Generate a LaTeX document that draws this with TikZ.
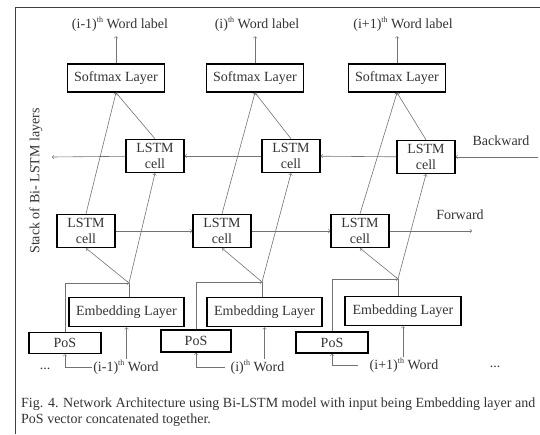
\documentclass[tikz,border=0pt]{standalone}
\usepackage{fontspec}
\setmainfont{Liberation Serif}
\newcommand{\eme}{\raisebox{0.85ex}{\fontsize{8}{8}\selectfont th}}
\begin{document}
\begin{tikzpicture}[x=1pt,y=-1pt,
  texte/.style={font=\fontsize{14}{16}\selectfont,text=black!80,inner sep=1pt},
  boite/.style={texte,draw=black,line width=1.4pt,inner sep=0pt,minimum height=28pt},
  cellule/.style={boite,align=center,minimum width=58pt,minimum height=33pt},
  fleche/.style={draw=black!55,line width=0.6pt,->},
  ligne/.style={draw=black!55,line width=0.6pt}]

\useasboundingbox
(0,0)
rectangle
(540,434);

% Cadre
\draw[black!75,line width=1pt]
(15,434)
--
(15,7)
--
(540,7);

% Etiquettes
\node[texte] (L1) at (120,24) {(i-1)\eme{} Word label};
\node[texte] (L2) at (257,24) {(i)\eme{} Word label};
\node[texte] (L3) at (403,24) {(i+1)\eme{} Word label};

% Softmax
\node[boite,minimum width=97pt] (S1) at (116,78) {Softmax Layer};
\node[boite,minimum width=97pt] (S2) at (255,78) {Softmax Layer};
\node[boite,minimum width=97pt] (S3) at (397,78) {Softmax Layer};

% Cellules arriere
\node[cellule] (B1) at (155,156) {LSTM\\cell};
\node[cellule] (B2) at (291,156) {LSTM\\cell};
\node[cellule] (B3) at (426,157) {LSTM\\cell};

% Cellules avant
\node[cellule] (F1) at (86,231) {LSTM\\cell};
\node[cellule] (F2) at (222,231) {LSTM\\cell};
\node[cellule] (F3) at (360,231) {LSTM\\cell};

% Concatenation
\coordinate (C1) at (129,283);
\coordinate (C2) at (262,282);
\coordinate (C3) at (398,279);

% Embedding
\node[boite,minimum width=115pt,minimum height=29pt] (E1) at (126.5,312) {Embedding Layer};
\node[boite,minimum width=115pt,minimum height=29pt] (E2) at (264.5,312) {Embedding Layer};
\node[boite,minimum width=116pt,minimum height=29pt] (E3) at (403,311) {Embedding Layer};

% PoS
\node[boite,minimum width=72pt,minimum height=21pt] (P1) at (65,343) {PoS};
\node[boite,minimum width=70pt,minimum height=22pt] (P2) at (196,341) {PoS};
\node[boite,minimum width=72pt,minimum height=21pt] (P3) at (332,342.5) {PoS};

% Mots
\node[texte] (W1) at (126,367) {(i-1)\eme{} Word};
\node[texte] (W2) at (257.5,367) {(i)\eme{} Word};
\node[texte] (W3) at (404,365) {(i+1)\eme{} Word};

\node[texte] (D1) at (45,369) {...};
\node[texte] (D2) at (495,367) {...};

% Sens
\coordinate (Bg) at (52,157);
\coordinate (Bd) at (538,157);
\coordinate (Fd) at (472,231);

\node[texte] (Bk) at (501,141) {Backward};
\node[texte] (Fw) at (460,215) {Forward};

\node[texte,rotate=90] (St) at (36,181) {Stack of Bi- LSTM layers};

% Liaisons horizontales
\draw[fleche] (F1) -- (F2);
\draw[fleche] (F2) -- (F3);
\draw[fleche] (F3) -- (Fd);
\draw[fleche] (Bd) -- (B3);
\draw[fleche] (B3) -- (B2);
\draw[fleche] (B2) -- (B1);
\draw[fleche] (B1) -- (Bg);

% Colonne i-1
\draw[fleche,shorten >=4pt] (S1) -- (S1.north |- L1.south);
\draw[fleche] (F1.north) -- (S1.south);
\draw[fleche] (B1.north) -- (S1.south);
\draw[fleche] (C1) -- (F1.south);
\draw[fleche] (C1) -- (B1.south);
\draw[ligne] (E1.north -| C1) -- (C1);
\draw[fleche] (P1.north) |- (C1);
\draw[fleche] (W1.north -| E1) -- (E1.south);
\draw[fleche] (W1.west) -| (P1.south);

% Colonne i
\draw[fleche,shorten >=4pt] (S2) -- (S2.north |- L2.south);
\draw[fleche] (F2.north) -- (S2.south);
\draw[fleche] (B2.north) -- (S2.south);
\draw[fleche] (C2) -- (F2.south);
\draw[fleche] (C2) -- (B2.south);
\draw[ligne] (E2.north -| C2) -- (C2);
\draw[fleche] (P2.north) |- (C2);
\draw[fleche] (W2.north -| E2) -- (E2.south);
\draw[fleche] ([xshift=-4pt]W2.west) -| (P2.south);

% Colonne i+1
\draw[fleche,shorten >=4pt] (S3) -- (S3.north |- L3.south);
\draw[fleche] (F3.north) -- (S3.south);
\draw[fleche] (B3.north) -- (S3.south);
\draw[fleche] (C3) -- (F3.south);
\draw[fleche] (C3) -- (B3.south);
\draw[ligne] (E3.north -| C3) -- (C3);
\draw[fleche] (P3.north) |- (C3);
\draw[fleche] (W3.north -| E3) -- (E3.south);
\draw[fleche] ([xshift=-11pt]W3.west) -| (P3.south);

% Legende
\node[texte,anchor=north west,align=left] (Cap) at (20,397)
{Fig. 4. Network Architecture using Bi-LSTM model with input being Embedding layer and\\
PoS vector concatenated together.};

\end{tikzpicture}
\end{document}
